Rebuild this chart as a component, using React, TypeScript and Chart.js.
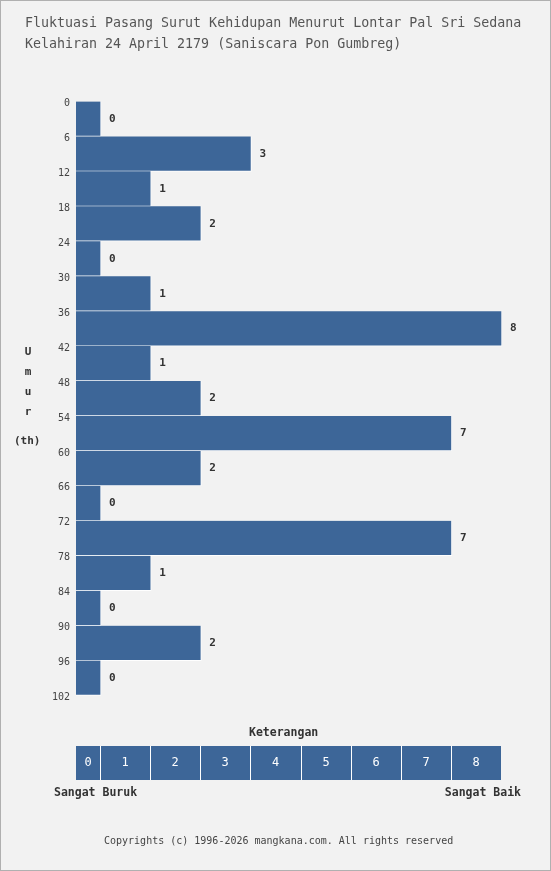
import React, { useEffect, useRef } from 'react';
import { Chart, registerables } from 'chart.js';

Chart.register(...registerables);

const AGES = [0, 6, 12, 18, 24, 30, 36, 42, 48, 54, 60, 66, 72, 78, 84, 90, 96];
const VALUES = [0, 3, 1, 2, 0, 1, 8, 1, 2, 7, 2, 0, 7, 1, 0, 2, 0];
const SCALE_KEYS = [0, 1, 2, 3, 4, 5, 6, 7, 8];
const TITLE_LINES = [
  'Fluktuasi Pasang Surut Kehidupan Menurut Lontar Pal Sri Sedana',
  'Kelahiran 24 April 2179 (Saniscara Pon Gumbreg)',
];
const AXIS_LETTERS = ['U', 'm', 'u', 'r'];

const BAR = '#3d6698';
const MONO = '"DejaVu Sans Mono", "Liberation Mono", monospace';

const labelsPlugin = {
  id: 'valueLabels',
  afterDatasetsDraw(chart: any) {
    const { ctx } = chart;
    const meta = chart.getDatasetMeta(0);
    ctx.save();
    ctx.font = `bold 11px ${MONO}`;
    ctx.fillStyle = '#333';
    ctx.textBaseline = 'middle';
    meta.data.forEach((bar: any, i: number) => {
      ctx.fillText(String(VALUES[i]), bar.x + 8, bar.y);
    });

    // keterangan strip, on the same x scale as the bars
    const xs = chart.scales.x;
    const top = 746, h = 34;
    ctx.font = `12px ${MONO}`;
    ctx.textAlign = 'center';
    SCALE_KEYS.forEach(k => {
      const x0 = k === 0 ? Math.round(xs.left) : Math.round(xs.getPixelForValue(k - 1)) - 1;
      const x1 = Math.round(xs.getPixelForValue(k)) - 1;
      ctx.fillStyle = BAR;
      ctx.fillRect(x0, top, x1 - x0, h);
      ctx.fillStyle = '#fff';
      if (k > 0) ctx.fillRect(x0, top, 1, h);
      ctx.fillText(String(k), (x0 + x1) / 2, top + h / 2);
    });
    ctx.restore();
  },
};

const App: React.FC = () => {
  const ref = useRef<HTMLCanvasElement>(null);

  useEffect(() => {
    document.body.style.margin = '0';
    if (!ref.current) return;
    const chart = new Chart(ref.current, {
      type: 'bar',
      data: {
        datasets: [{
          data: AGES.map((a, i) => ({ x: VALUES[i], y: a + 3 })),
          backgroundColor: BAR,
          borderColor: '#ffffff',
          borderWidth: { top: 0, right: 1, bottom: 1, left: 0 },
          borderSkipped: false,
          base: -0.5,
          categoryPercentage: 1,
          barPercentage: 1,
        } as any],
      },
      options: {
        indexAxis: 'y',
        animation: false,
        responsive: false,
        maintainAspectRatio: false,
        layout: { padding: { top: 84, bottom: 158, left: 0, right: 49 } },
        plugins: { legend: { display: false }, tooltip: { enabled: false } },
        scales: {
          x: { type: 'linear', min: -0.5, max: 8, display: false },
          y: {
            type: 'linear',
            min: 0,
            max: 102,
            reverse: true,
            grid: { display: false, drawTicks: false },
            border: { display: false },
            ticks: {
              stepSize: 6,
              padding: 6,
              labelOffset: 2,
              color: '#444',
              font: { family: MONO, size: 10 },
            },
            afterFit: (s: any) => { s.width = 76; },
          },
        },
      },
      plugins: [labelsPlugin],
    });
    return () => chart.destroy();
  }, []);

  const bold = { fontFamily: MONO, fontWeight: 'bold' as const, color: '#333', position: 'absolute' as const };

  return (
    <div style={{ position: 'relative', width: 551, height: 871, background: '#f2f2f2', overflow: 'hidden' }}>
      <canvas ref={ref} width={551} height={871} style={{ position: 'absolute', left: 0, top: 0 }} />
      <div style={{ position: 'absolute', left: 25, top: 12, fontFamily: MONO, fontSize: 13.3, lineHeight: '21px', color: '#555', whiteSpace: 'pre' }}>
        {TITLE_LINES.map(t => <div key={t}>{t}</div>)}
      </div>
      {AXIS_LETTERS.map((l, i) => (
        <div key={i} style={{ ...bold, fontSize: 11, left: 22, width: 12, textAlign: 'center', top: 345 + i * 20 }}>{l}</div>
      ))}
      <div style={{ ...bold, fontSize: 11, left: 14, top: 434 }}>(th)</div>
      <div style={{ ...bold, fontSize: 11.5, left: 249, top: 725 }}>Keterangan</div>
      <div style={{ ...bold, fontSize: 11.5, left: 54, top: 785 }}>Sangat Buruk</div>
      <div style={{ ...bold, fontSize: 11.5, right: 30, top: 785 }}>Sangat Baik</div>
      <div style={{ position: 'absolute', left: 104, top: 835, fontFamily: MONO, fontSize: 10, color: '#444' }}>
        Copyrights (c) 1996-2026 mangkana.com. All rights reserved
      </div>
      <div style={{ position: 'absolute', inset: 0, border: '1px solid #b0b0b0', pointerEvents: 'none' }} />
    </div>
  );
};

export default App;
